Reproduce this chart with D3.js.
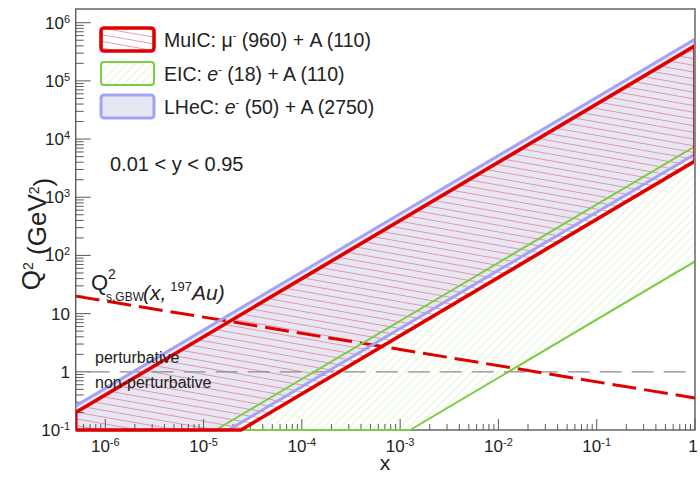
<!DOCTYPE html>
<html>
<head>
<meta charset="utf-8">
<script src="https://cdn.jsdelivr.net/npm/d3@7"></script>
<style>
  body { margin: 0; background: #fff; }
  svg { font-family: "Liberation Sans", Arial, Helvetica, sans-serif; }
</style>
</head>
<body>
<div id="chart"></div>
<script>
(function (d3) {
  'use strict';

  // band outlines: [x, Q2] vertices
  const muicBand = [[5e-7, 0.1], [5e-7, 0.2], [1, 4.0e5], [1, 4.2e3], [2.4e-5, 0.1]];
  const eicBand = [[1.33e-5, 0.1], [1, 7.5e3], [1, 79], [1.26e-3, 0.1]];
  const lhecBand = [[5e-7, 0.1], [5e-7, 0.26], [1, 5.2e5], [1, 5.5e3], [1.8e-5, 0.1]];

  // saturation scale line and the Q2 = 1 separator
  const gbwLine = [[5e-7, 20], [1, 0.355]];
  const pertLine = [[5e-7, 1], [1, 1]];

  const xTickExp = [-6, -5, -4, -3, -2, -1, 0];
  const yTickExp = [-1, 0, 1, 2, 3, 4, 5, 6];

  const width = 700;
  const height = 477;
  const left = 75.7, right = 695, top = 9, bottom = 430;

  const svg = d3.select("#chart").append("svg")
    .attr("width", width)
    .attr("height", height);

  const x = d3.scaleLog().domain([5e-7, 1]).range([left, right]);
  const y = d3.scaleLog().domain([0.1, 1.72e6]).range([bottom, top]);

  const defs = svg.append("defs");

  defs.append("clipPath").attr("id", "fillclip")
    .append("rect")
    .attr("x", left).attr("y", top)
    .attr("width", right - left).attr("height", bottom - top);

  defs.append("clipPath").attr("id", "lineclip")
    .append("rect")
    .attr("x", left).attr("y", top)
    .attr("width", right - 1 - left).attr("height", bottom + 2.5 - top);

  // red hatch, shallow lines going down to the right
  const redHatch = defs.append("pattern")
    .attr("id", "redhatch")
    .attr("patternUnits", "userSpaceOnUse")
    .attr("width", 40).attr("height", 6.6)
    .attr("patternTransform", "rotate(10)");
  redHatch.append("line")
    .attr("x1", 0).attr("x2", 40).attr("y1", 3.3).attr("y2", 3.3)
    .style("stroke", "#e67890").style("stroke-width", 0.75);

  // faint green hatch
  const greenHatch = defs.append("pattern")
    .attr("id", "greenhatch")
    .attr("patternUnits", "userSpaceOnUse")
    .attr("width", 6).attr("height", 6)
    .attr("patternTransform", "rotate(-45)");
  greenHatch.append("line")
    .attr("x1", 0).attr("x2", 6).attr("y1", 3).attr("y2", 3)
    .style("stroke", "#dcf1cf").style("stroke-width", 0.9);

  const line = d3.line()
    .x(function(d) { return x(d[0]); })
    .y(function(d) { return y(d[1]); });

  const poly = function(pts) { return line(pts) + "Z"; };

  const fills = svg.append("g").attr("clip-path", "url(#fillclip)");
  fills.append("path").attr("d", poly(lhecBand)).style("fill", "#e7e7f4");
  fills.append("path").attr("d", poly(eicBand)).style("fill", "url(#greenhatch)");
  fills.append("path").attr("d", poly(muicBand)).style("fill", "url(#redhatch)");

  // frame
  const frameColor = "#5a5a5a";
  svg.append("rect")
    .attr("x", left).attr("y", top)
    .attr("width", right - left).attr("height", bottom - top)
    .style("fill", "none").style("stroke", frameColor).style("stroke-width", 1.4);

  // ticks, ROOT style (inside)
  const ticks = svg.append("g").style("stroke", frameColor).style("stroke-width", 1);
  const minors = function(lo, hi) {
    const out = [];
    for (let e = Math.floor(Math.log10(lo)); e <= Math.ceil(Math.log10(hi)); e++) {
      for (let m = 1; m <= 9; m++) {
        const v = m * Math.pow(10, e);
        if (v >= lo * 0.999 && v <= hi * 1.001) out.push({ v: v, major: m === 1 });
      }
    }
    return out;
  };
  minors(0.1, 1.72e6).forEach(function(t) {
    ticks.append("line")
      .attr("x1", left).attr("x2", left + (t.major ? 15 : 8))
      .attr("y1", y(t.v)).attr("y2", y(t.v));
  });
  minors(5e-7, 1).forEach(function(t) {
    ticks.append("line")
      .attr("x1", x(t.v)).attr("x2", x(t.v))
      .attr("y1", bottom).attr("y2", bottom - (t.major ? 11 : 6));
  });

  const expLabel = function(sel, e) {
    if (e === 0) { sel.append("tspan").text("1"); return; }
    if (e === 1) { sel.append("tspan").text("10"); return; }
    sel.append("tspan").text("10");
    sel.append("tspan").attr("dy", "-0.55em").style("font-size", "11px").text(e);
  };

  svg.append("g").selectAll("text")
    .data(yTickExp)
    .enter()
    .append("text")
    .attr("x", 70)
    .attr("y", function(d) { return y(Math.pow(10, d)) + 6; })
    .style("text-anchor", "end")
    .style("font-size", "17px")
    .style("fill", "#222")
    .each(function(d) { expLabel(d3.select(this), d); });

  svg.append("g").selectAll("text")
    .data(xTickExp)
    .enter()
    .append("text")
    .attr("x", function(d) { return x(Math.pow(10, d)) + (d === 0 ? -2 : 0); })
    .attr("y", 452)
    .style("text-anchor", "middle")
    .style("font-size", "17px")
    .style("fill", "#222")
    .each(function(d) { expLabel(d3.select(this), d); });

  // axis titles
  const yTitle = svg.append("text")
    .attr("transform", "translate(40,234) rotate(-90)")
    .style("text-anchor", "middle")
    .style("font-size", "26px")
    .style("fill", "#222");
  yTitle.append("tspan").text("Q");
  yTitle.append("tspan").attr("dy", "-0.5em").style("font-size", "14px").text("2");
  yTitle.append("tspan").attr("dy", "0.5em").text(" (GeV");
  yTitle.append("tspan").attr("dy", "-0.5em").style("font-size", "14px").text("2");
  yTitle.append("tspan").attr("dy", "0.5em").text(")");

  svg.append("text")
    .attr("x", 385).attr("y", 470)
    .style("text-anchor", "middle")
    .style("font-size", "21px")
    .style("fill", "#222")
    .text("x");

  // reference lines
  const lines = svg.append("g").attr("clip-path", "url(#fillclip)");
  lines.append("path").attr("d", line(pertLine))
    .style("fill", "none").style("stroke", "#8a8a8a").style("stroke-width", 1.2)
    .style("stroke-dasharray", "22,10").style("stroke-dashoffset", -12);
  lines.append("path").attr("d", line(gbwLine))
    .style("fill", "none").style("stroke", "#e00000").style("stroke-width", 3)
    .style("stroke-dasharray", "24,8");

  // band outlines
  const outlines = svg.append("g").attr("clip-path", "url(#lineclip)").style("fill", "none");
  outlines.append("path").attr("d", poly(lhecBand))
    .style("stroke", "#a3a3f3").style("stroke-width", 3);
  outlines.append("path").attr("d", poly(eicBand))
    .style("stroke", "#7ccd45").style("stroke-width", 2);
  outlines.append("path").attr("d", poly(muicBand))
    .style("stroke", "#e00000").style("stroke-width", 3.6);

  // legend
  const legend = [
    { fill: "url(#redhatch)", stroke: "#e00000", sw: 3.6, y: 28, parts: [["MuIC: μ", ""], ["-", "sup"], [" (960) + A (110)", "down"]] },
    { fill: "url(#greenhatch)", stroke: "#7ccd45", sw: 2, y: 62, parts: [["EIC: ", ""], ["e", "it"], ["-", "sup"], [" (18) + A (110)", "down"]] },
    { fill: "#e7e7f4", stroke: "#a3a3f3", sw: 3, y: 95, parts: [["LHeC: ", ""], ["e", "it"], ["-", "sup"], [" (50) + A (2750)", "down"]] }
  ];
  const lg = svg.append("g");
  legend.forEach(function(l) {
    const solid = l.fill.indexOf("url") !== 0;
    lg.append("rect")
      .attr("x", 101).attr("y", l.y)
      .attr("width", 53).attr("height", 23)
      .attr("rx", 3)
      .style("fill", solid ? l.fill : "#fff");
    if (!solid) {
      lg.append("rect")
        .attr("x", 101).attr("y", l.y)
        .attr("width", 53).attr("height", 23)
        .style("fill", l.fill);
    }
    lg.append("rect")
      .attr("x", 101).attr("y", l.y)
      .attr("width", 53).attr("height", 23)
      .attr("rx", 3)
      .style("fill", "none")
      .style("stroke", l.stroke).style("stroke-width", l.sw);
    const t = lg.append("text")
      .attr("x", 164).attr("y", l.y + 19)
      .style("font-size", "19.5px")
      .style("fill", "#222");
    l.parts.forEach(function(p) {
      const s = t.append("tspan").text(p[0]);
      if (p[1] === "it") s.style("font-style", "italic");
      if (p[1] === "sup") s.attr("dy", -8).style("font-size", "11px");
      if (p[1] === "down") s.attr("dy", 8);
    });
  });

  svg.append("text")
    .attr("x", 110).attr("y", 171)
    .style("font-size", "20px")
    .style("fill", "#222")
    .text("0.01 < y < 0.95");

  svg.append("text")
    .attr("x", 95).attr("y", 363)
    .style("font-size", "16px")
    .style("fill", "#222")
    .text("perturbative");
  svg.append("text")
    .attr("x", 95).attr("y", 388)
    .style("font-size", "16px")
    .style("fill", "#222")
    .text("non-perturbative");

  // saturation label
  const sat = svg.append("g").style("fill", "#222");
  sat.append("text").attr("x", 91).attr("y", 290).style("font-size", "22px").text("Q");
  sat.append("text").attr("x", 108).attr("y", 279).style("font-size", "14px").text("2");
  sat.append("text").attr("x", 106).attr("y", 301).style("font-size", "12px").text("s,GBW");
  const satT = sat.append("text").attr("x", 143).attr("y", 300)
    .style("font-size", "21px").style("font-style", "italic");
  satT.append("tspan").text("(x,");
  satT.append("tspan").attr("dx", 4).attr("dy", -9).style("font-size", "13px").style("font-style", "normal").text("197");
  satT.append("tspan").attr("dy", 9).text("Au)");

}(d3));
</script>
</body>
</html>
